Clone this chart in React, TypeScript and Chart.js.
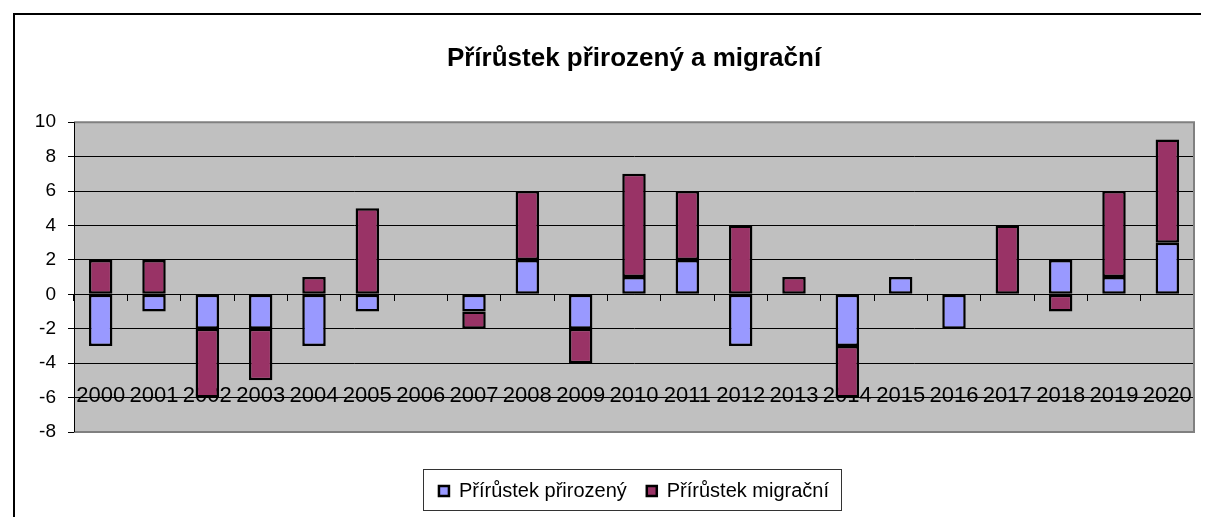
import React, { useEffect, useRef } from "react";
import { Chart, registerables } from "chart.js";

Chart.register(...registerables);

const years = ["2000", "2001", "2002", "2003", "2004", "2005", "2006", "2007", "2008", "2009", "2010", "2011", "2012", "2013", "2014", "2015", "2016", "2017", "2018", "2019", "2020"];
const naturalIncrease = [-3, -1, -2, -2, -3, -1, 0, -1, 2, -2, 1, 2, -3, 0, -3, 1, -2, 0, 2, 1, 3];
const migrationIncrease = [2, 2, -4, -3, 1, 5, 0, -1, 4, -2, 6, 4, 4, 1, -3, 0, 0, 4, -1, 5, 6];
const seriesNames = ["Přírůstek přirozený", "Přírůstek migrační"];
const chartTitle = "Přírůstek přirozený a migrační";
const yMin = -8;
const yMax = 10;
const yStep = 2;

const FONT = "'Liberation Sans', Arial, sans-serif";

const plotBackground = {
  id: "plotBackground",
  beforeDraw(chart: any) {
    const { ctx, chartArea } = chart;
    if (!chartArea) return;
    ctx.save();
    ctx.fillStyle = "#C0C0C0";
    ctx.fillRect(chartArea.left, chartArea.top, chartArea.right - chartArea.left, chartArea.bottom - chartArea.top);
    ctx.restore();
  },
  beforeDatasetsDraw(chart: any) {
    const { ctx, chartArea } = chart;
    ctx.save();
    ctx.strokeStyle = "#808080";
    ctx.lineWidth = 2;
    ctx.beginPath();
    ctx.moveTo(chartArea.left, chartArea.top);
    ctx.lineTo(chartArea.right, chartArea.top);
    ctx.lineTo(chartArea.right, chartArea.bottom);
    ctx.lineTo(chartArea.left, chartArea.bottom);
    ctx.stroke();
    ctx.strokeStyle = "#000";
    ctx.lineWidth = 1;
    ctx.beginPath();
    ctx.moveTo(chartArea.left + 0.5, chartArea.top);
    ctx.lineTo(chartArea.left + 0.5, chartArea.bottom);
    ctx.stroke();
    ctx.restore();
  },
};

const legendFrame = {
  id: "legendFrame",
  afterDraw(chart: any) {
    const legend = chart.legend;
    if (!legend || !legend.legendHitBoxes || !legend.legendHitBoxes.length) return;
    const boxes = legend.legendHitBoxes;
    let left = Infinity;
    let right = -Infinity;
    let cy = 0;
    boxes.forEach((b: any) => {
      left = Math.min(left, b.left);
      right = Math.max(right, b.left + b.width);
      cy = b.top + b.height / 2;
    });
    const { ctx } = chart;
    ctx.save();
    ctx.strokeStyle = "#333";
    ctx.lineWidth = 1;
    ctx.strokeRect(Math.round(left - 16) + 0.5, Math.round(cy - 22) + 0.5, Math.round(right - left + 28), 41);
    ctx.restore();
  },
};

export default function App() {
  const canvasRef = useRef<HTMLCanvasElement | null>(null);

  useEffect(() => {
    if (!canvasRef.current) return;
    Chart.defaults.color = "#000";
    Chart.defaults.font.family = FONT;
    const chart = new Chart(canvasRef.current, {
      type: "bar",
      data: {
        labels: years,
        datasets: [
          {
            label: seriesNames[0],
            data: naturalIncrease,
            backgroundColor: "#9999FF",
            borderColor: "#000",
            borderWidth: 2.5,
            borderSkipped: false,
            stack: "s",
          },
          {
            label: seriesNames[1],
            data: migrationIncrease,
            backgroundColor: "#993366",
            borderColor: "#000",
            borderWidth: 2.5,
            borderSkipped: false,
            stack: "s",
          },
        ],
      },
      options: {
        responsive: false,
        animation: false,
        devicePixelRatio: 1,
        layout: { padding: { left: 0, right: 15, top: 0, bottom: 6 } },
        datasets: { bar: { categoryPercentage: 1, barPercentage: 0.44 } },
        plugins: {
          title: {
            display: true,
            text: chartTitle,
            fullSize: false,
            color: "#000",
            font: { family: FONT, size: 26, weight: "bold" },
            padding: { top: 28, bottom: 48 },
          },
          legend: {
            display: true,
            position: "bottom",
            fullSize: false,
            title: { display: true, text: "", font: { size: 10 }, padding: { top: 0, bottom: 17 } },
            labels: {
              boxWidth: 10,
              boxHeight: 10,
              padding: 20,
              color: "#000",
              font: { family: FONT, size: 20 },
            },
          },
          tooltip: { enabled: false },
        },
        scales: {
          x: {
            stacked: true,
            position: { y: 0 },
            offset: true,
            afterFit(scale: any) {
              scale.paddingLeft = 0;
              scale.paddingRight = 0;
              scale.paddingTop = 0;
              scale.paddingBottom = 0;
            },
            grid: {
              display: true,
              offset: true,
              drawOnChartArea: false,
              drawTicks: true,
              tickLength: 6,
              color: "#000",
            },
            border: { display: true, color: "#000", width: 1 },
            ticks: {
              autoSkip: false,
              maxRotation: 0,
              minRotation: 0,
              padding: 82,
              color: "#000",
              font: { family: FONT, size: 22 },
            },
          },
          y: {
            stacked: true,
            min: yMin,
            max: yMax,
            afterFit(scale: any) {
              scale.width = 59;
            },
            grid: { color: "#000", lineWidth: 1, tickLength: 6 },
            border: { display: true, color: "#000", width: 1 },
            ticks: {
              stepSize: yStep,
              padding: 12,
              color: "#000",
              font: { family: FONT, size: 19 },
            },
          },
        },
      },
      plugins: [plotBackground, legendFrame],
    });
    return () => chart.destroy();
  }, []);

  return (
    <div style={{ paddingTop: 5, paddingLeft: 5 }}>
      <div style={{ borderTop: "2px solid #000", borderLeft: "2px solid #000", width: 1194, height: 502 }}>
        <canvas ref={canvasRef} width={1194} height={502} style={{ display: "block" }} />
      </div>
    </div>
  );
}
